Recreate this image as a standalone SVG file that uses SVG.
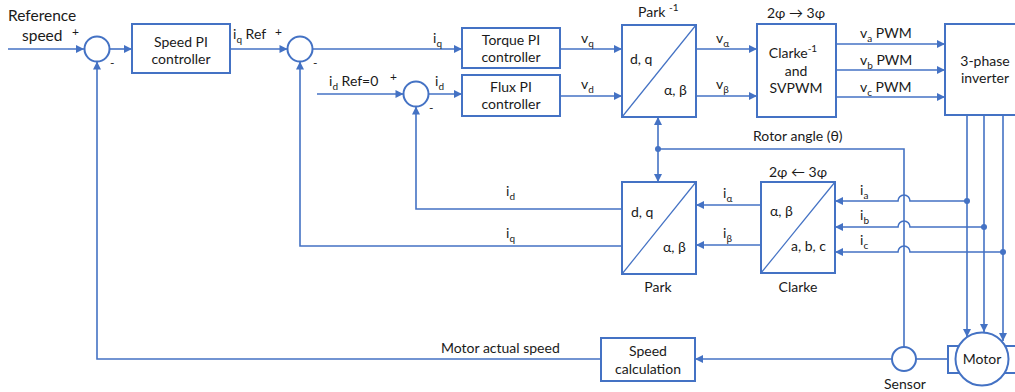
<svg xmlns="http://www.w3.org/2000/svg" width="1015" height="392" viewBox="0 0 1015 392">
<style>
.box{fill:#fff;stroke:#4472C4;stroke-width:2}
.diag{stroke:#4472C4;stroke-width:1.2;fill:none}
.ln{fill:none;stroke:#4472C4;stroke-width:1.6}
.arr{marker-end:url(#ah)}
.dot{fill:#4472C4}
text{font-family:Lato,"Liberation Sans",sans-serif;font-size:14px;fill:#1a1a1a}
.c{text-anchor:middle}
.big{font-size:15.5px}
.sgn{font-size:12px}
.sub{font-size:10px}
</style>
<defs>
<marker id="ah" viewBox="0 0 10 10" refX="10" refY="5" markerWidth="10" markerHeight="8" markerUnits="userSpaceOnUse" orient="auto">
<path d="M0,0 L10,5 L0,10 z" fill="#4472C4"/>
</marker>
</defs>
<rect width="1015" height="392" fill="#fff"/>

<g id="connectors">
<path class="ln arr" d="M8,49 H84"/>
<path class="ln arr" d="M109.5,49 H132"/>
<path class="ln arr" d="M230,49 H287.5"/>
<path class="ln arr" d="M312.5,49 H462"/>
<path class="ln arr" d="M317,94 H403.5"/>
<path class="ln arr" d="M428.5,94 H462"/>
<path class="ln arr" d="M560,49 H622"/>
<path class="ln arr" d="M560,96 H622"/>
<path class="ln arr" d="M696,49 H757"/>
<path class="ln arr" d="M696,96 H757"/>
<path class="ln arr" d="M836,44 H945"/>
<path class="ln arr" d="M836,70 H945"/>
<path class="ln arr" d="M836,97 H945"/>
<path class="ln arr" d="M967,115 V337"/>
<path class="ln arr" d="M984,115 V332"/>
<path class="ln arr" d="M1003,115 V341"/>
<path class="ln arr" d="M967,201 H910 A6,6 0 0 0 898,201 H835"/>
<path class="ln arr" d="M984,227 H910 A6,6 0 0 0 898,227 H835"/>
<path class="ln arr" d="M1003,252 H910 A6,6 0 0 0 898,252 H835"/>
<path class="ln arr" d="M761,205 H696"/>
<path class="ln arr" d="M761,245 H696"/>
<path class="ln arr" d="M622,209 H416 V106.5"/>
<path class="ln arr" d="M622,246 H300 V61.5"/>
<path class="ln arr" d="M601,359 H97 V61.5"/>
<path class="ln" d="M904,347 V149 H658"/>
<path class="ln arr" d="M658,149 V117"/>
<path class="ln arr" d="M658,149 V182"/>
<path class="ln arr" d="M892,359 H695"/>
<path class="ln" d="M916,359 H948"/>
<circle class="dot" cx="658" cy="149" r="3"/>
<circle class="dot" cx="967" cy="201" r="3"/>
<circle class="dot" cx="984" cy="227" r="3"/>
<circle class="dot" cx="1003" cy="252" r="3"/>
<text x="8" y="21" class="big">Reference</text>
<text x="22" y="41" class="big">speed</text>
<text x="233" y="39">i<tspan class="sub" dy="4">q</tspan><tspan dy="-4"> Ref</tspan></text>
<text x="433" y="43">i<tspan class="sub" dy="4">q</tspan></text>
<text x="329" y="86">i<tspan class="sub" dy="4">d</tspan><tspan dy="-4"> Ref=0</tspan></text>
<text x="435" y="86">i<tspan class="sub" dy="4">d</tspan></text>
<text x="581" y="43">v<tspan class="sub" dy="4">q</tspan></text>
<text x="581" y="89">v<tspan class="sub" dy="4">d</tspan></text>
<text x="716" y="43">v<tspan class="sub" dy="4">α</tspan></text>
<text x="716" y="89">v<tspan class="sub" dy="4">β</tspan></text>
<text x="860" y="38">v<tspan class="sub" dy="4">a</tspan><tspan dy="-4"> PWM</tspan></text>
<text x="860" y="65">v<tspan class="sub" dy="4">b</tspan><tspan dy="-4"> PWM</tspan></text>
<text x="860" y="92">v<tspan class="sub" dy="4">c</tspan><tspan dy="-4"> PWM</tspan></text>
<text x="753" y="141">Rotor angle (θ)</text>
<text x="506" y="196">i<tspan class="sub" dy="4">d</tspan></text>
<text x="506" y="238">i<tspan class="sub" dy="4">q</tspan></text>
<text x="723" y="198">i<tspan class="sub" dy="4">α</tspan></text>
<text x="723" y="238">i<tspan class="sub" dy="4">β</tspan></text>
<text x="860" y="195">i<tspan class="sub" dy="4">a</tspan></text>
<text x="860" y="220">i<tspan class="sub" dy="4">b</tspan></text>
<text x="860" y="245">i<tspan class="sub" dy="4">c</tspan></text>
<text x="441" y="353">Motor actual speed</text>
</g>

<g id="sum1">
<circle class="box" cx="97" cy="49" r="12.5"/>
<text x="72" y="36" class="sgn">+</text>
<text x="110" y="67" class="sgn">-</text>
</g>
<g id="speedPI">
<rect class="box" x="132" y="24" width="98" height="49"/>
<text x="181" y="47" class="c">Speed PI</text>
<text x="181" y="64" class="c">controller</text>
</g>
<g id="sum2">
<circle class="box" cx="300" cy="49" r="12.5"/>
<text x="275" y="36" class="sgn">+</text>
<text x="313" y="67" class="sgn">-</text>
</g>
<g id="torquePI">
<rect class="box" x="462" y="28" width="98" height="40"/>
<text x="511" y="45" class="c">Torque PI</text>
<text x="511" y="62" class="c">controller</text>
</g>
<g id="sum3">
<circle class="box" cx="416" cy="94" r="12.5"/>
<text x="390" y="81" class="sgn">+</text>
<text x="429" y="112" class="sgn">-</text>
</g>
<g id="fluxPI">
<rect class="box" x="462" y="75" width="98" height="41"/>
<text x="511" y="92" class="c">Flux PI</text>
<text x="511" y="109" class="c">controller</text>
</g>
<g id="parkInv">
<rect class="box" x="622" y="25" width="74" height="92"/>
<path class="diag" d="M622,117 L696,25"/>
<text x="630" y="64">d, q</text>
<text x="664" y="95">α, β</text>
<text x="638" y="17">Park <tspan class="sub" dy="-6">-1</tspan></text>
</g>
<g id="clarkeInv">
<rect class="box" x="757" y="24" width="79" height="93"/>
<text x="796" y="18" class="c">2φ → 3φ</text>
<text x="793" y="58" class="c">Clarke<tspan class="sub" dy="-6">-1</tspan></text>
<text x="796" y="76" class="c">and</text>
<text x="796" y="93" class="c">SVPWM</text>
</g>
<g id="inverter">
<rect class="box" x="945" y="24" width="80" height="91"/>
<text x="985" y="66" class="c">3-phase</text>
<text x="985" y="83" class="c">inverter</text>
</g>
<g id="park">
<rect class="box" x="622" y="182" width="74" height="92"/>
<path class="diag" d="M622,274 L696,182"/>
<text x="631" y="217">d, q</text>
<text x="663" y="252">α, β</text>
<text x="658" y="292" class="c">Park</text>
</g>
<g id="clarke">
<rect class="box" x="761" y="182" width="74" height="91"/>
<path class="diag" d="M761,273 L835,182"/>
<text x="770" y="216">α, β</text>
<text x="791" y="251">a, b, c</text>
<text x="798" y="177" class="c">2φ ← 3φ</text>
<text x="798" y="292" class="c">Clarke</text>
</g>
<g id="speedCalc">
<rect class="box" x="601" y="338" width="94" height="43"/>
<text x="648" y="356" class="c">Speed</text>
<text x="648" y="374" class="c">calculation</text>
</g>
<g id="sensor">
<circle class="box" cx="904" cy="359" r="12"/>
<text x="905" y="389" class="c">Sensor</text>
</g>
<g id="motor">
<rect class="box" x="948" y="346" width="80" height="27"/>
<circle class="box" cx="982" cy="359" r="26.5"/>
<text x="982" y="364" class="c">Motor</text>
</g>
</svg>
